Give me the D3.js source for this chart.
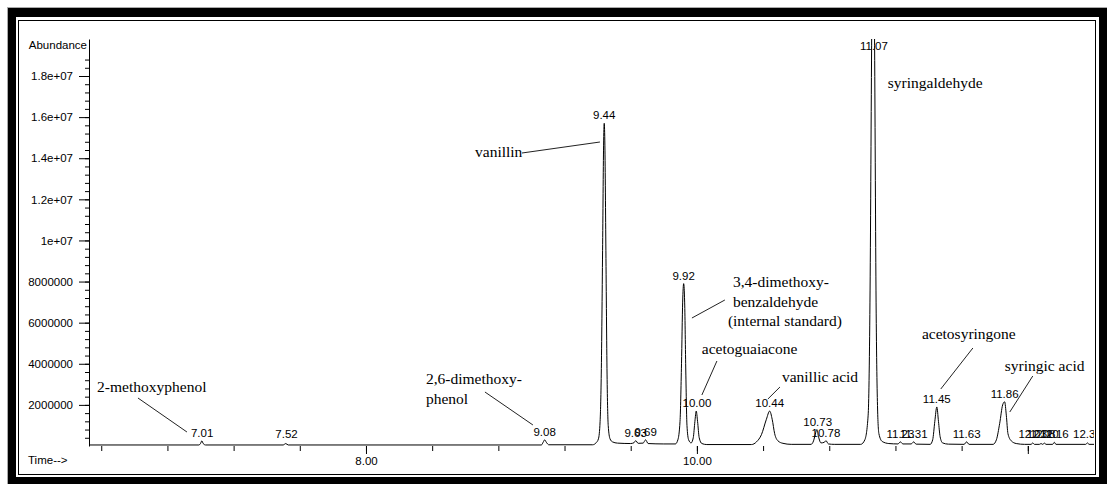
<!DOCTYPE html>
<html>
<head>
<meta charset="utf-8">
<script src="https://cdnjs.cloudflare.com/ajax/libs/d3/7.8.5/d3.min.js"></script>
<style>
  body { margin: 0; background: #fff; }
  svg { display: block; }
  .sans { font-family: "Liberation Sans", Arial, sans-serif; font-size: 11.5px; fill: #000; }
  .serif { font-family: "Liberation Serif", "DejaVu Serif", serif; font-size: 15.5px; fill: #000; }
</style>
</head>
<body>
<div id="chart"></div>
<script>
// Chromatogram trace: [retention time (min), abundance (millions)]
const trace = [
  [6.326,0.05],[6.99,0.05],[7.0,0.12],[7.008,0.25],[7.016,0.12],[7.03,0.05],
  [7.50,0.05],[7.515,0.12],[7.53,0.05],
  [9.06,0.05],[9.072,0.2],[9.08,0.3],[9.09,0.18],[9.105,0.06],
  [9.37,0.06],[9.39,0.15],[9.405,0.35],[9.415,1.2],[9.422,3.5],[9.43,9.5],[9.436,14.6],[9.44,15.7],
  [9.444,14.6],[9.45,9.5],[9.457,3.5],[9.464,1.0],[9.475,0.35],[9.49,0.2],[9.52,0.14],[9.60,0.12],
  [9.62,0.16],[9.63,0.26],[9.645,0.13],[9.675,0.14],[9.69,0.3],[9.705,0.12],
  [9.80,0.1],[9.87,0.1],[9.885,0.3],[9.898,1.2],[9.907,4.0],[9.914,7.0],[9.92,7.9],[9.926,7.0],
  [9.933,3.6],[9.94,1.0],[9.95,0.3],[9.965,0.15],[9.978,0.4],[9.988,1.2],[9.996,1.7],[10.004,1.2],
  [10.014,0.4],[10.03,0.12],[10.06,0.07],
  [10.33,0.07],[10.36,0.2],[10.39,0.55],[10.42,1.3],[10.44,1.7],[10.455,1.3],[10.47,0.6],[10.49,0.25],
  [10.52,0.13],[10.57,0.08],
  [10.69,0.08],[10.705,0.25],[10.718,0.65],[10.725,0.8],[10.735,0.45],[10.75,0.15],[10.77,0.18],
  [10.78,0.26],[10.795,0.1],[10.83,0.08],
  [10.99,0.08],[11.015,0.3],[11.035,1.5],[11.046,7],[11.056,19.5],[11.065,30],[11.074,19.5],[11.083,7],
  [11.092,1.8],[11.10,0.6],[11.12,0.22],[11.16,0.12],
  [11.215,0.1],[11.23,0.2],[11.245,0.1],[11.295,0.1],[11.31,0.2],[11.325,0.09],
  [11.41,0.08],[11.425,0.3],[11.438,1.2],[11.45,1.9],[11.46,1.2],[11.47,0.45],[11.485,0.15],[11.52,0.09],
  [11.615,0.08],[11.63,0.2],[11.645,0.08],
  [11.79,0.08],[11.81,0.3],[11.83,1.1],[11.848,2.0],[11.86,2.15],[11.87,1.5],[11.88,0.6],[11.90,0.25],
  [11.93,0.12],[11.98,0.08],
  [12.02,0.08],[12.03,0.15],[12.04,0.08],[12.07,0.08],[12.08,0.12],[12.09,0.08],[12.10,0.14],[12.11,0.08],
  [12.15,0.08],[12.16,0.18],[12.17,0.08],[12.35,0.08],[12.36,0.15],[12.37,0.08],[12.40,0.08]
];

// Integrated peaks: retention time labels and apex abundance (millions)
const peakTimes = [7.01, 7.52, 9.08, 9.44, 9.63, 9.69, 9.92, 10.00, 10.44, 10.73, 10.78,
                   11.07, 11.23, 11.31, 11.45, 11.63, 11.86, 12.03, 12.08, 12.10, 12.16, 12.36];
const peakApex  = [0.25, 0.12, 0.3, 15.7, 0.26, 0.3, 7.9, 1.7, 1.7, 0.8, 0.26,
                   30, 0.2, 0.2, 1.9, 0.2, 2.15, 0.15, 0.12, 0.14, 0.18, 0.15];

// Axis ticks
const yMajorTicks  = [2, 4, 6, 8, 10, 12, 14, 16, 18];
const yTickLabels  = ["2000000", "4000000", "6000000", "8000000", "1e+07", "1.2e+07", "1.4e+07", "1.6e+07", "1.8e+07"];
const xMajorTicks  = [8, 10, 12];
const xTickLabels  = ["8.00", "10.00", ""];

// Compound names, text anchor and leader line given in (time, abundance)
const compoundNames = [
  ["2-methoxyphenol"],
  ["2,6-dimethoxy-", "phenol"],
  ["vanillin"],
  ["3,4-dimethoxy-", "benzaldehyde", "(internal standard)"],
  ["acetoguaiacone"],
  ["vanillic acid"],
  ["syringaldehyde"],
  ["acetosyringone"],
  ["syringic acid"]
];
const compoundAt = [[6.375, 2.63], [8.3625, 3.016], [8.659, 14.06], [10.2175, 7.735], [10.03, 4.476],
                    [10.514, 3.113], [11.154, 17.416], [11.36, 5.205], [11.861, 3.649]];
const leaderFrom = [[6.622, 2.335], [8.719, 2.627], [8.943, 14.254], [10.169, 7.103], [10.121, 4.135],
                    [10.502, 2.87], null, [11.668, 4.767], [12.03, 3.405]];
const leaderTo   = [[6.918, 0.681], [9.009, 1.022], [9.414, 14.789], [9.97, 6.227], [10.03, 2.481],
                    [10.429, 2.286], null, [11.474, 2.773], [11.891, 1.654]];

var svg = d3.select("#chart")
  .append("svg")
    .attr("width", 1107)
    .attr("height", 484);

// printout frame
svg.append("rect").attr("x", 7.5).attr("y", 7.5).attr("width", 1100).attr("height", 477)
  .attr("fill", "none").attr("stroke", "#aaa");
svg.append("rect").attr("x", 8).attr("y", 8).attr("width", 1099).attr("height", 476).attr("fill", "#000");
svg.append("rect").attr("x", 16).attr("y", 17).attr("width", 1083).attr("height", 460).attr("fill", "#fff");
svg.append("rect").attr("x", 18.5).attr("y", 20.5).attr("width", 1077).attr("height", 454)
  .attr("fill", "none").attr("stroke", "#000");

// scales
var x = d3.scaleLinear().domain([6.326, 12.40]).range([89, 1094]);
var y = d3.scaleLinear().domain([0, 19.8]).range([446, 39]);

svg.append("clipPath").attr("id", "plot-clip")
  .append("rect").attr("x", 89).attr("y", 39).attr("width", 1005).attr("height", 420);

// Y axis: minor then major ticks
svg.append("g")
  .attr("transform", "translate(89,0)")
  .call(d3.axisLeft(y).tickValues(d3.range(1, 48).map(i => i * 0.4)).tickSize(4).tickFormat("").tickSizeOuter(0))
  .call(g => g.select(".domain").remove());
var yAxis = svg.append("g")
  .attr("transform", "translate(89,0)")
  .call(d3.axisLeft(y).tickValues(yMajorTicks).tickSize(10).tickPadding(6).tickSizeOuter(0)
    .tickFormat((d, i) => yTickLabels[i]));
yAxis.selectAll("text").attr("class", "sans");
yAxis.attr("font-size", null).attr("font-family", null);

svg.append("text").attr("class", "sans").attr("x", 87).attr("y", 49)
  .attr("text-anchor", "end").text("Abundance");

// X axis: ticks hang below the trace baseline, no axis line
svg.append("g")
  .attr("transform", "translate(0,446)")
  .call(d3.axisBottom(x).tickValues(d3.range(16, 31).map(i => i * 0.4)).tickSize(5).tickFormat(""))
  .call(g => g.select(".domain").remove());
var xAxis = svg.append("g")
  .attr("transform", "translate(0,446)")
  .call(d3.axisBottom(x).tickValues(xMajorTicks).tickSize(8).tickPadding(3)
    .tickFormat((d, i) => xTickLabels[i]))
  .call(g => g.select(".domain").remove());
xAxis.selectAll("text").attr("class", "sans");
xAxis.attr("font-size", null).attr("font-family", null);

svg.append("text").attr("class", "sans").attr("x", 28).attr("y", 464).text("Time-->");

// retention time labels above each peak (crowded ones overlap, as in the printout)
svg.append("g")
  .attr("clip-path", "url(#plot-clip)")
  .selectAll("text")
  .data(peakTimes)
  .enter()
  .append("text")
    .attr("class", "sans")
    .attr("text-anchor", "middle")
    .attr("x", d => x(d))
    .attr("y", (d, i) => Math.max(50, Math.min(438, y(peakApex[i]) - 4)))
    .text(d => d.toFixed(2));

// the chromatogram
var line = d3.line()
  .x(d => x(d[0]))
  .y(d => y(d[1]))
  .curve(d3.curveMonotoneX);
svg.append("path")
  .datum(trace)
  .attr("clip-path", "url(#plot-clip)")
  .attr("fill", "none")
  .attr("stroke", "#000")
  .attr("stroke-width", 1)
  .attr("d", line);

// compound names with leader lines
compoundNames.forEach(function(lines, i) {
  var t = svg.append("text")
    .attr("class", "serif")
    .attr("x", x(compoundAt[i][0]))
    .attr("y", y(compoundAt[i][1]));
  lines.forEach(function(s, j) {
    t.append("tspan")
      .attr("x", x(compoundAt[i][0]) - (s.charAt(0) == "(" ? 5 : 0))
      .attr("dy", j == 0 ? 0 : 19.5)
      .text(s);
  });
  if (leaderFrom[i]) {
    svg.append("line")
      .attr("x1", x(leaderFrom[i][0])).attr("y1", y(leaderFrom[i][1]))
      .attr("x2", x(leaderTo[i][0])).attr("y2", y(leaderTo[i][1]))
      .attr("stroke", "#222")
      .attr("stroke-width", 1);
  }
});
</script>
</body>
</html>
